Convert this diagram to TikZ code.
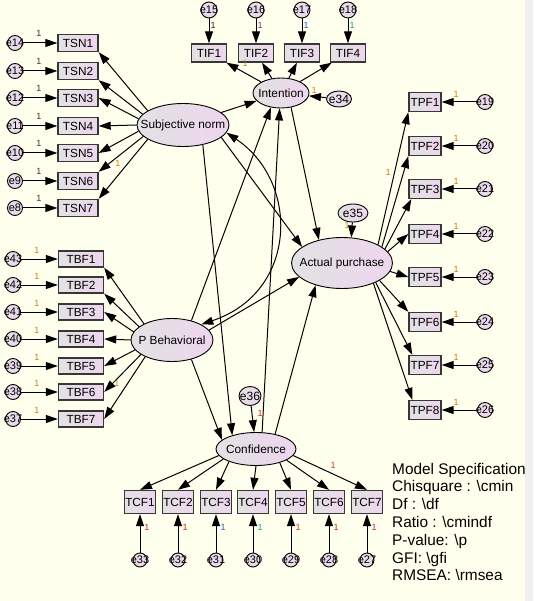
\documentclass[tikz,border=0pt]{standalone}
\usepackage{fontspec}
\setmainfont{Liberation Sans}
\usetikzlibrary{shapes.geometric,arrows.meta}
\definecolor{bg}{RGB}{255,255,238}
\definecolor{strip}{RGB}{240,240,240}
\definecolor{fillL}{RGB}{226,226,226}
\definecolor{fillR}{RGB}{238,214,238}
\definecolor{boxline}{RGB}{55,55,55}
\definecolor{lblor}{RGB}{205,125,20}
\definecolor{lblred}{RGB}{200,40,40}
\definecolor{lblblue}{RGB}{40,90,200}
\definecolor{lblpur}{RGB}{130,40,130}
\definecolor{lblteal}{RGB}{30,150,170}
\begin{document}
\begin{tikzpicture}[x=1pt,y=-1pt,
  arr/.style={draw=black, line width=1pt, -{Triangle[length=12pt,width=8pt]}},
  obs/.style={rectangle, draw=boxline, line width=1.4pt, left color=fillL, right color=fillR, inner sep=0pt, font=\fontsize{11.8}{13}\selectfont},
  lat/.style={ellipse, draw=black, line width=0.9pt, left color=fillL, right color=fillR, inner sep=0pt, font=\fontsize{11.8}{13}\selectfont},
  err/.style={circle, draw=black, line width=0.9pt, left color=fillL!60!fillR, right color=fillR, inner sep=0pt, minimum size=15pt, font=\fontsize{11}{12}\selectfont},
  errb/.style={ellipse, draw=black, line width=0.9pt, left color=fillL, right color=fillR, inner sep=0pt, font=\fontsize{12}{13}\selectfont},
  one/.style={font=\fontsize{9}{10}\selectfont, text=lblor, inner sep=0pt},
  spec/.style={font=\fontsize{15.4}{17.8}\selectfont, anchor=base west, inner sep=0pt}
]
\useasboundingbox (0,0) rectangle (533,601);
\fill[bg] (0,0) rectangle (525,601);
\fill[strip] (525,0) rectangle (533,601);

% latent variables
\node[lat, minimum width=92pt, minimum height=43pt] (sn) at (183,125) {\makebox[0pt]{Subjective norm}};
\node[lat, minimum width=56pt, minimum height=30pt] (int) at (281,93) {\makebox[0pt]{Intention}};
\node[lat, minimum width=101pt, minimum height=51pt] (ap) at (342,263) {\makebox[0pt]{Actual purchase}};
\node[lat, minimum width=82pt, minimum height=43pt] (pb) at (172,340) {\makebox[0pt]{P Behavioral}};
\node[lat, minimum width=80pt, minimum height=33pt] (conf) at (256,449) {\makebox[0pt]{Confidence}};
\node[errb, minimum width=25pt, minimum height=16pt] (e34) at (339,99) {\makebox[0pt]{e34}};
\node[errb, minimum width=30pt, minimum height=18pt] (e35) at (353,213) {\makebox[0pt]{e35}};
\node[errb, minimum width=22pt, minimum height=19pt] (e36) at (250,396) {\makebox[0pt]{e36}};

% TSN
\foreach \i/\y/\e in {1/43/14, 2/71/13, 3/98/12, 4/126/11, 5/153/10, 6/181/9, 7/208/8} {
  \node[obs, minimum width=40pt, minimum height=17pt] (tsn\i) at (78,\y) {TSN\i};
  \node[err] (e\e) at (15,\y) {\makebox[0pt]{e\e}};
  \draw[arr] (e\e) -- (tsn\i);
  \node[one, text=black!80] (ltsn\i) at (39,\y-10) {1};
}
% TBF
\foreach \i/\y/\e in {1/259/43, 2/285/42, 3/312/41, 4/339/40, 5/366/39, 6/392/38, 7/419/37} {
  \node[obs, minimum width=45pt, minimum height=16pt] (tbf\i) at (81,\y) {TBF\i};
  \node[err] (e\e) at (13,\y) {\makebox[0pt]{e\e}};
  \draw[arr] (e\e) -- (tbf\i);
  \node[one] (ltbf\i) at (37,\y-9) {1};
}
% TIF
\foreach \i/\x/\e/\c in {1/209/15/black!70!lblor, 2/256/16/lblpur, 3/302/17/lblblue, 4/348/18/lblteal} {
  \node[obs, minimum width=35pt, minimum height=18pt] (tif\i) at (\x,53) {TIF\i};
  \node[err, minimum size=16pt] (e\e) at (\x,10) {\makebox[0pt]{e\e}};
  \draw[arr] (e\e) -- (tif\i);
  \node[one, text=\c] (ltif\i) at (\x+4,25) {1};
  \draw[arr] (int) -- (tif\i);
}
% TPF
\foreach \i/\y/\e in {1/102/19, 2/146/20, 3/189/21, 4/234/22, 5/277/23, 6/322/24, 7/365/25, 8/410/26} {
  \node[obs, minimum width=32pt, minimum height=19pt] (tpf\i) at (425,\y) {TPF\i};
  \node[err] (e\e) at (485,\y) {\makebox[0pt]{e\e}};
  \draw[arr] (e\e) -- (tpf\i);
  \node[one] (ltpf\i) at (456,\y-8) {1};
}
% TCF
\foreach \i/\x/\e/\c in {1/140/33/lblred, 2/178/32/lblred, 3/216/31/lblblue, 4/253/30/lblteal, 5/291/29/lblred, 6/329/28/lblred, 7/367/27/lblred} {
  \node[obs, minimum width=31pt, minimum height=23pt] (tcf\i) at (\x,502) {TCF\i};
  \node[err, minimum size=14pt] (e\e) at (\x,560) {\makebox[0pt]{e\e}};
  \draw[arr] (e\e) -- (tcf\i);
  \node[one, text=\c] (ltcf\i) at (\x+7,527) {1};
}

% SN -> TSN
\draw[arr] (sn.158) -- (tsn1.south east);
\draw[arr] (sn.165) -- (tsn2.south east);
\draw[arr] (sn.172) -- (tsn3.east);
\draw[arr] (sn.180) -- (tsn4.east);
\draw[arr] (sn.188) -- (tsn5.east);
\draw[arr] (sn.196) -- (tsn6.north east);
\draw[arr] (sn.202) -- (tsn7.north east);
% PB -> TBF
\draw[arr] (pb.150) -- (tbf1.south east);
\draw[arr] (pb.158) -- (tbf2.south east);
\draw[arr] (pb.168) -- (tbf3.east);
\draw[arr] (pb.180) -- (tbf4.east);
\draw[arr] (pb.195) -- (tbf5.east);
\draw[arr] (pb.205) -- (tbf6.east);
\draw[arr] (pb.212) -- (tbf7.east);
% AP -> TPF
\draw[arr] (ap.27) -- (tpf1.south west);
\draw[arr] (ap.22) -- (tpf2.south west);
\draw[arr] (ap.18) -- ([xshift=3pt]tpf3.south west);
\draw[arr] (ap.14) -- (tpf4.west);
\draw[arr] (ap.-10) -- (tpf5.west);
\draw[arr] (ap.-25) -- (tpf6.north west);
\draw[arr] (ap.-30) -- ([xshift=4pt]tpf7.north west);
\draw[arr] (ap.-33) -- ([xshift=4pt]tpf8.north west);
% Conf -> TCF
\draw[arr] (conf.190) -- (tcf1.north);
\draw[arr] (conf.197) -- (tcf2.north);
\draw[arr] (conf.205) -- (tcf3.north);
\draw[arr] (conf.-90) -- (tcf4.north);
\draw[arr] (conf.-30) -- (tcf5.north);
\draw[arr] (conf.-20) -- (tcf6.north);
\draw[arr] (conf.-10) -- (tcf7.north);

% structural paths
\draw[arr] (sn) -- (int);
\draw[arr] (sn.-18) -- (ap.158);
\draw[arr] (sn.-45) -- (conf.150);
\draw[arr] (pb.45) -- (int.-125);
\draw[arr] (pb.15) -- (ap.198);
\draw[arr] (pb.-45) -- (conf.165);
\draw[arr] (conf.70) -- (int.-95);
\draw[arr] (conf.38) -- (ap.-140);
\draw[arr] (int.-55) -- (ap.135);
\draw[arr] (e34) -- (int);
\draw[arr] (e35) -- (ap.70);
\draw[arr] (e36) -- (conf);
\draw[line width=1pt, {Triangle[length=12pt,width=8pt]}-{Triangle[length=12pt,width=8pt]}] (sn.-10) .. controls (300,182) and (298,292) .. (pb.28);

% parameter labels
\node[one] (l34) at (314,90) {1};
\node[one] (l35) at (347,225) {1};
\node[one, text=lblred] (l36) at (260,413) {1};
\node[one] (lsn6) at (118,163) {1};
\node[one] (lpb6) at (117,383) {1};
\node[one] (lint1) at (245,63) {1};
\node[one] (lap1) at (388,172) {1};
\node[one, text=lblred!70!lblor] (lconf7) at (333,465) {1};

% model specification
\foreach \t [count=\k] in {Model Specification, Chisquare : \textbackslash cmin, Df : \textbackslash df, Ratio : \textbackslash cmindf, P-value: \textbackslash p, GFI: \textbackslash gfi, RMSEA: \textbackslash rmsea} {
  \node[spec] (spec\k) at (392,474+17.8*\k-17.8) {\t};
}
\end{tikzpicture}
\end{document}
